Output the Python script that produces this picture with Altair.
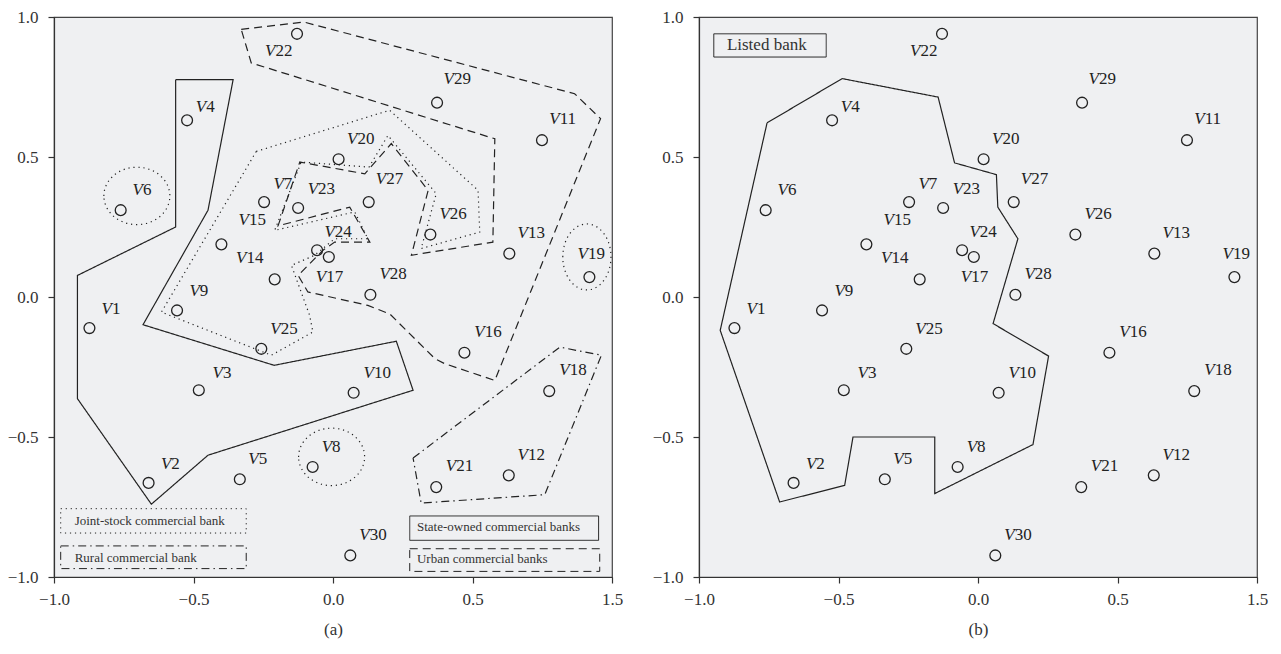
import altair as alt
import pandas as pd

FONT = "Liberation Serif"
INK = "#222222"
BG = "#eff0f2"

# ---- bank positions (both panels) ----
banks = [f"V{i}" for i in range(1, 31)]
bank_x = [-0.873, -0.661, -0.481, -0.523, -0.334, -0.761, -0.247, -0.073, -0.559, 0.074,
          0.749, 0.630, 0.632, -0.400, -0.209, 0.471, -0.015, 0.775, 0.919, 0.020,
          0.370, -0.129, -0.125, -0.057, -0.257, 0.349, 0.128, 0.134, 0.373, 0.062]
bank_y = [-0.111, -0.664, -0.333, 0.631, -0.651, 0.310, 0.339, -0.607, -0.048, -0.342,
          0.560, -0.637, 0.155, 0.188, 0.063, -0.199, 0.143, -0.336, 0.071, 0.492,
          -0.679, 0.940, 0.318, 0.167, -0.185, 0.223, 0.339, 0.008, 0.694, -0.923]
# label anchors (junction between the italic V and the number)
label_x = [-0.796, -0.583, -0.398, -0.458, -0.270, -0.685, -0.180, -0.007, -0.481, 0.143,
           0.809, 0.695, 0.695, -0.314, -0.305, 0.540, -0.028, 0.845, 0.910, 0.084,
           0.438, -0.210, -0.057, 0.003, -0.191, 0.415, 0.187, 0.200, 0.430, 0.128]
label_y = [-0.044, -0.595, -0.270, 0.679, -0.580, 0.381, 0.405, -0.536, 0.020, -0.270,
           0.637, -0.563, 0.229, 0.140, 0.274, -0.125, 0.071, -0.262, 0.155, 0.563,
           -0.604, 0.877, 0.387, 0.232, -0.115, 0.298, 0.423, 0.083, 0.780, -0.849]

# ---- cluster outlines, panel (a) ----
state_owned = [(-0.564, 0.776), (-0.358, 0.776), (-0.448, 0.310), (-0.681, -0.099),
               (-0.211, -0.244), (0.227, -0.158), (0.287, -0.333), (-0.448, -0.565),
               (-0.651, -0.740), (-0.916, -0.363), (-0.916, 0.077), (-0.564, 0.250)]
urban = [(-0.329, 0.956), (-0.104, 0.982), (0.866, 0.726), (0.959, 0.637), (0.580, -0.298),
         (0.400, -0.238), (0.365, -0.220), (0.204, -0.061), (0.125, -0.030), (-0.090, 0.018),
         (-0.125, 0.077), (-0.036, 0.167), (0.006, 0.196), (0.132, 0.196), (0.060, 0.321),
         (-0.197, 0.254), (-0.119, 0.482), (0.114, 0.440), (0.209, 0.548), (0.341, 0.381),
         (0.281, 0.149), (0.573, 0.196), (0.580, 0.565), (-0.293, 0.836)]
joint_stock = [(-0.275, 0.520), (0.203, 0.667), (0.520, 0.381), (0.526, 0.232), (0.316, 0.173),
               (0.370, 0.369), (0.197, 0.577), (0.129, 0.464), (-0.114, 0.482), (-0.209, 0.238),
               (0.078, 0.304), (0.125, 0.208), (0.006, 0.208), (-0.066, 0.149), (-0.149, 0.113),
               (-0.084, -0.065), (-0.072, -0.125), (-0.221, -0.208), (-0.615, -0.054)]
rural = [(0.287, -0.575), (0.813, -0.179), (0.962, -0.208), (0.759, -0.706), (0.316, -0.736)]
# single-member joint-stock banks (dotted ellipses around V6, V8 / V19)
ell_wide_x = [-0.703, -0.005]
ell_wide_y = [0.361, -0.571]
ell_tall_x = [0.910]
ell_tall_y = [0.143]

# ---- outline, panel (b) ----
listed = [(-0.756, 0.622), (-0.487, 0.780), (-0.143, 0.714), (-0.084, 0.479), (0.066, 0.437),
          (0.071, 0.321), (0.143, 0.208), (0.054, -0.095), (0.253, -0.211), (0.197, -0.527),
          (-0.155, -0.702), (-0.155, -0.500), (-0.448, -0.500), (-0.478, -0.673),
          (-0.711, -0.732), (-0.924, -0.119)]

# ---- legend boxes ----
leg_a_text = ["Joint-stock commercial bank", "Rural commercial bank",
              "State-owned commercial banks", "Urban commercial banks"]
leg_a_x1 = [-0.976, -0.976, 0.275, 0.275]
leg_a_x2 = [-0.311, -0.311, 0.952, 0.956]
leg_a_y1 = [-0.756, -0.889, -0.782, -0.899]
leg_a_y2 = [-0.843, -0.970, -0.869, -0.980]
leg_a_tx = [-0.926, -0.926, 0.301, 0.301]
leg_a_ty = [-0.800, -0.932, -0.821, -0.935]
leg_b_text = ["Listed bank"]
leg_b_x1, leg_b_x2, leg_b_y1, leg_b_y2 = [-0.947], [-0.544], [0.940], [0.857]
leg_b_tx, leg_b_ty = [-0.900], [0.899]

DOT = [1.2, 3.8]
DASH = [8, 5]
DASHDOT = [8, 4, 1.5, 4]
SOLID = [1, 0]

ticks = [-1.0, -0.5, 0.0, 0.5, 1.0]


def X(field, title):
    return alt.X(field, type="quantitative",
                 scale=alt.Scale(domain=[-1, 1], nice=False, zero=False),
                 axis=alt.Axis(values=ticks, format=".1f", title=title,
                               labelExpr="datum.value == 1 ? '1.5' : datum.label",
                               labelPadding=8, titlePadding=14, labelFlush=False))


def Y(field):
    return alt.Y(field, type="quantitative",
                 scale=alt.Scale(domain=[-1, 1], nice=False, zero=False),
                 axis=alt.Axis(values=ticks, format=".1f", title=None, labelPadding=10))


def poly_df(pts):
    pts = list(pts) + [pts[0]]
    return pd.DataFrame({"x": [p[0] for p in pts], "y": [p[1] for p in pts],
                         "i": list(range(len(pts)))})


def outline(pts, dash, title):
    return alt.Chart(poly_df(pts)).mark_line(color=INK, strokeWidth=1.2, strokeDash=dash,
                                             strokeJoin="miter").encode(
        x=X("x", title), y=Y("y"), order=alt.Order("i:Q"))


pts_df = pd.DataFrame({"name": banks, "num": [b[1:] for b in banks],
                       "x": bank_x, "y": bank_y, "lx": label_x, "ly": label_y})


def banks_layers(title):
    base = alt.Chart(pts_df)
    circles = base.mark_point(shape="circle", size=118, filled=False, color=INK,
                              strokeWidth=1.3, opacity=1).encode(x=X("x", title), y=Y("y"))
    v = base.mark_text(font=FONT, fontSize=17, fontStyle="italic", align="right",
                       baseline="middle", color=INK, dx=1).encode(
        x=X("lx", title), y=Y("ly"), text=alt.value("V"))
    n = base.mark_text(font=FONT, fontSize=17, align="left", baseline="middle",
                       color=INK, dx=1).encode(x=X("lx", title), y=Y("ly"), text="num:N")
    return [circles, v, n]


def legend_layers(texts, x1, x2, y1, y2, tx, ty, dashes, title, size):
    layers = []
    for k in range(len(texts)):
        d = pd.DataFrame({"x1": [x1[k]], "x2": [x2[k]], "y1": [y1[k]], "y2": [y2[k]],
                          "tx": [tx[k]], "ty": [ty[k]], "t": [texts[k]]})
        c = alt.Chart(d)
        layers.append(c.mark_rect(fill=BG, stroke=INK, strokeWidth=1,
                                  strokeDash=dashes[k]).encode(
            x=X("x1", title), x2="x2", y=Y("y1"), y2="y2"))
        layers.append(c.mark_text(font=FONT, fontSize=size, align="left",
                                  baseline="middle", color="#333").encode(
            x=X("tx", title), y=Y("ty"), text="t:N"))
    return layers


def ellipse_layer(xs, ys, path, title):
    d = pd.DataFrame({"x": xs, "y": ys})
    return alt.Chart(d).mark_point(shape=path, size=4356, filled=False, color=INK,
                                   strokeWidth=1.2, strokeDash=DOT, opacity=1).encode(
        x=X("x", title), y=Y("y"))


WIDE = "M -1 0 A 1 0.87 0 1 1 1 0 A 1 0.87 0 1 1 -1 0 Z"
TALL = "M -0.73 0 A 0.73 1 0 1 1 0.73 0 A 0.73 1 0 1 1 -0.73 0 Z"

ta = "(a)"
left_layers = [outline(state_owned, SOLID, ta), outline(urban, DASH, ta),
               outline(joint_stock, DOT, ta), outline(rural, DASHDOT, ta),
               ellipse_layer(ell_wide_x, ell_wide_y, WIDE, ta),
               ellipse_layer(ell_tall_x, ell_tall_y, TALL, ta)]
left_layers += legend_layers(leg_a_text, leg_a_x1, leg_a_x2, leg_a_y1, leg_a_y2,
                             leg_a_tx, leg_a_ty, [DOT, DASHDOT, SOLID, DASH], ta, 13)
left_layers += banks_layers(ta)
left = alt.layer(*left_layers).properties(width=558, height=560)

tb = "(b)"
right_layers = [outline(listed, SOLID, tb)]
right_layers += legend_layers(leg_b_text, leg_b_x1, leg_b_x2, leg_b_y1, leg_b_y2,
                              leg_b_tx, leg_b_ty, [SOLID], tb, 17)
right_layers += banks_layers(tb)
right = alt.layer(*right_layers).properties(width=558, height=560)

chart = alt.hconcat(left, right, spacing=87, bounds="flush").properties(
    padding={"left": -2, "top": -1, "right": 2, "bottom": 2}
).configure_axis(
    labelFont=FONT, labelFontSize=17, labelColor="#333", domainColor="#333",
    tickColor="#333", tickSize=6, grid=False, titleFont=FONT, titleFontSize=17,
    titleFontWeight="normal", titleColor="#333", domainWidth=1.2, tickWidth=1.2
).configure_view(fill=BG, stroke="#444", strokeWidth=1.2)

chart.save("out.html", embed_options={"renderer": "svg", "actions": False})
